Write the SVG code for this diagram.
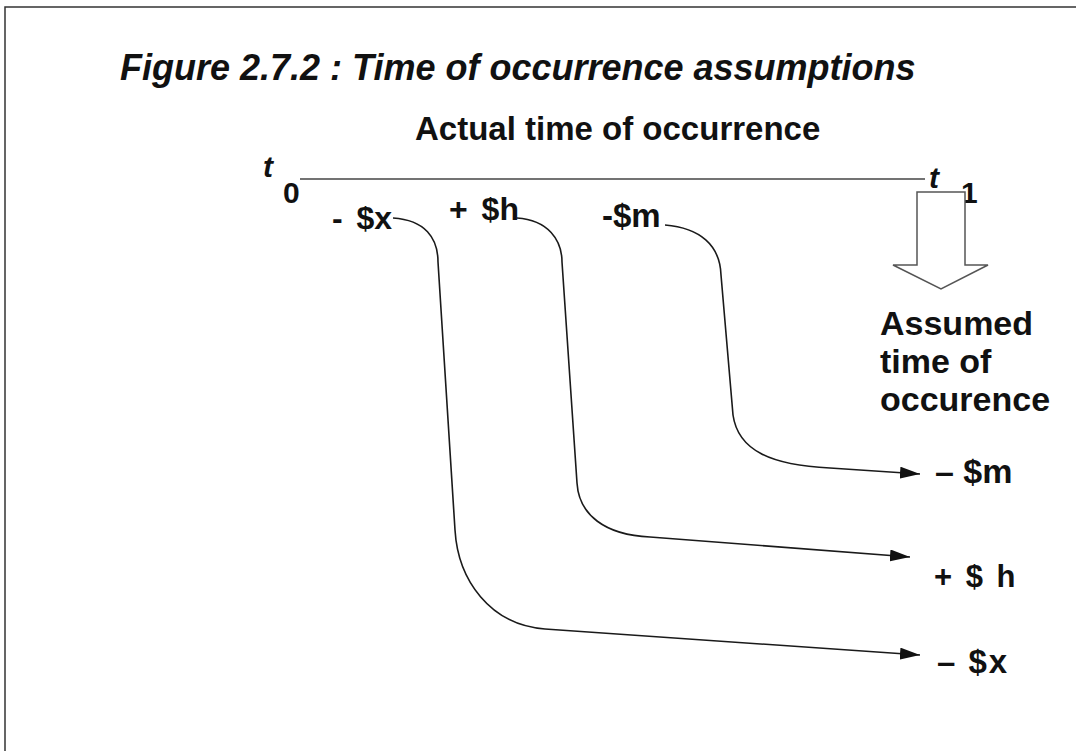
<svg xmlns="http://www.w3.org/2000/svg" width="1076" height="751" viewBox="0 0 1076 751">
<style>
text{font-family:"Liberation Sans",Arial,sans-serif;font-weight:bold;fill:#111}
.it{font-style:italic}
.conn{fill:none;stroke:#1a1a1a;stroke-width:1.6}
</style>
<defs>
<marker id="ah" markerUnits="userSpaceOnUse" markerWidth="20" markerHeight="12" refX="20" refY="6" orient="auto">
<path d="M0,0 L20,6 L0,12 z" fill="#111"/>
</marker>
</defs>
<rect width="1076" height="751" fill="#fff"/>
<g id="frame" fill="none" stroke="#333" stroke-width="1.5">
<path d="M5,751 L5,7 L1076,7"/>
</g>
<g id="title"><text class="it" x="120" y="80" font-size="36">Figure 2.7.2 : Time of occurrence assumptions</text></g>
<g id="actual"><text x="415" y="140" font-size="33">Actual time of occurrence</text></g>
<g id="timeline">
<line x1="300" y1="179" x2="925" y2="179" stroke="#444" stroke-width="1.5"/>
<text class="it" x="263" y="177" font-size="30">t</text>
<text x="283" y="203" font-size="30">0</text>
<text class="it" x="929" y="188" font-size="30">t</text>
<text x="961" y="203" font-size="30">1</text>
</g>
<g id="assumed-arrow">
<polygon points="917,192 965,192 965,265 988,265 941,289 893,265 917,265" fill="#fff" stroke="#555" stroke-width="1.5"/>
</g>
<g id="assumed-label">
<text x="880" y="335" font-size="34">Assumed</text>
<text x="880" y="373" font-size="34">time of</text>
<text x="880" y="411" font-size="34">occurence</text>
</g>
<g id="label-x"><text x="332" y="229" font-size="32" word-spacing="5">- $x</text></g>
<g id="label-h"><text x="449" y="220" font-size="32" word-spacing="5">+ $h</text></g>
<g id="label-m"><text x="602" y="227" font-size="33">-$m</text></g>
<g id="out-m"><text x="935" y="483" font-size="34">– $m</text></g>
<g id="out-h"><text x="934" y="587" font-size="31" word-spacing="5">+ $ h</text></g>
<g id="out-x"><text x="937" y="673" font-size="33" letter-spacing="2">– $x</text></g>
<g id="connectors">
<path class="conn" marker-end="url(#ah)" d="M393,218 C425,220 438,238 438,262 L455,530 C458,580 490,625 545,629 L920,655"/>
<path class="conn" marker-end="url(#ah)" d="M517,218 C548,220 562,240 562,262 L577,483 C579,515 605,535 650,537 L910,557"/>
<path class="conn" marker-end="url(#ah)" d="M665,225 C700,228 720,245 721,275 L733,415 C738,450 770,465 830,468 L920,474"/>
</g>
</svg>
